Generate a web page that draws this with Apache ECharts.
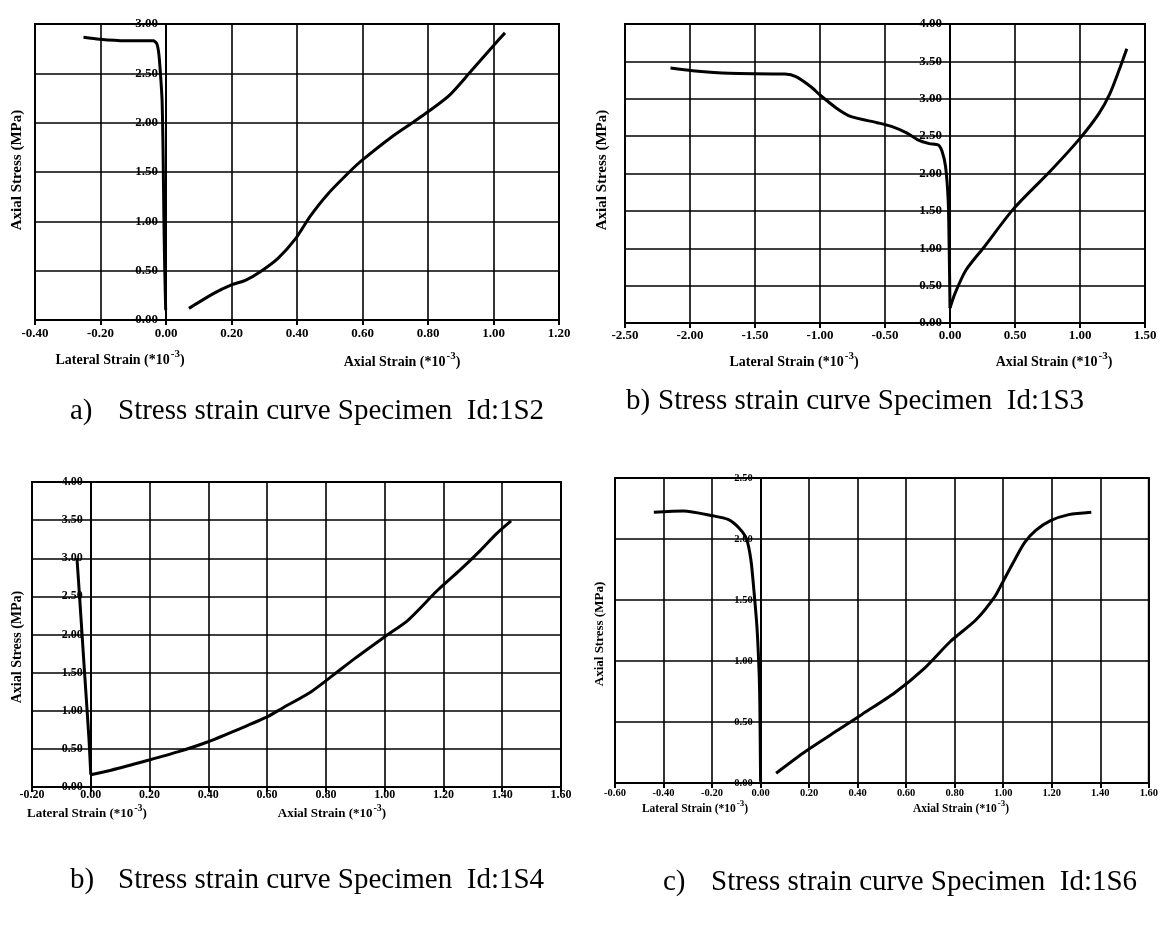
<!DOCTYPE html>
<html>
<head>
<meta charset="utf-8">
<title>Stress strain curves</title>
<script src="https://cdn.jsdelivr.net/npm/echarts@6/dist/echarts.min.js"></script>
<style>
  html, body { margin: 0; padding: 0; background: #fff; }
  #chart { width: 1161px; height: 926px; }
</style>
</head>
<body>
<div id="chart"></div>
<script>
// Specimen 1S2: [strain (*10^-3), axial stress (MPa)]
const s2Lateral = [[-0.252,2.865],[-0.203,2.845],[-0.126,2.83],[-0.039,2.83],[-0.028,2.80],[-0.022,2.70],[-0.017,2.50],[-0.012,2.23],[-0.009,1.72],[-0.0065,1.05],[-0.004,0.54],[-0.001,0.10]];
const s2Axial = [[0.070,0.118],[0.146,0.27],[0.20,0.355],[0.244,0.405],[0.288,0.49],[0.342,0.625],[0.397,0.83],[0.44,1.05],[0.495,1.28],[0.566,1.52],[0.599,1.62],[0.691,1.86],[0.757,2.01],[0.80,2.11],[0.866,2.28],[0.931,2.52],[0.997,2.77],[1.035,2.91]];

// Specimen 1S3
const s3Lateral = [[-2.15,3.41],[-1.98,3.375],[-1.70,3.34],[-1.27,3.33],[-1.185,3.295],[-1.07,3.16],[-1.0,3.05],[-0.87,2.87],[-0.76,2.76],[-0.56,2.68],[-0.45,2.63],[-0.33,2.54],[-0.247,2.45],[-0.16,2.40],[-0.09,2.38],[-0.06,2.29],[-0.034,2.09],[-0.014,1.64],[-0.006,0.97],[0,0.2]];
const s3Axial = [[0,0.2],[0.037,0.39],[0.122,0.705],[0.264,1.02],[0.49,1.53],[0.776,2.04],[1.0,2.47],[1.145,2.80],[1.23,3.07],[1.30,3.38],[1.36,3.67]];

// Specimen 1S4
const s4Lateral = [[-0.047,3.0],[-0.038,2.49],[-0.021,1.49],[-0.006,0.62],[0,0.16]];
const s4Axial = [[0,0.16],[0.069,0.22],[0.195,0.35],[0.296,0.46],[0.397,0.59],[0.498,0.75],[0.60,0.92],[0.65,1.03],[0.75,1.25],[0.826,1.47],[0.90,1.69],[1.0,1.97],[1.08,2.19],[1.18,2.58],[1.255,2.84],[1.32,3.08],[1.38,3.32],[1.43,3.49]];

// Specimen 1S6
const s6Lateral = [[-0.44,2.22],[-0.318,2.23],[-0.196,2.19],[-0.134,2.16],[-0.089,2.09],[-0.058,2.0],[-0.040,1.83],[-0.028,1.59],[-0.015,1.28],[-0.006,0.90],[-0.003,0.63],[0,0.01]];
const s6Axial = [[0.064,0.08],[0.186,0.26],[0.324,0.44],[0.416,0.56],[0.553,0.74],[0.675,0.94],[0.782,1.16],[0.889,1.34],[0.966,1.53],[0.996,1.64],[1.042,1.81],[1.088,1.97],[1.134,2.07],[1.195,2.15],[1.27,2.20],[1.363,2.22]];

// Axis ranges: [min, max, interval]
const strainRanges = [[-0.4, 1.2, 0.2], [-2.5, 1.5, 0.5], [-0.2, 1.6, 0.2], [-0.6, 1.6, 0.2]];
const stressRanges = [[0, 3.0, 0.5], [0, 4.0, 0.5], [0, 4.0, 0.5], [0, 2.5, 0.5]];

// Panel captions
const captionTags = ['a)', 'b)', 'b)', 'c)'];
const captionTexts = [
  'Stress strain curve Specimen  Id:1S2',
  'Stress strain curve Specimen  Id:1S3',
  'Stress strain curve Specimen  Id:1S4',
  'Stress strain curve Specimen  Id:1S6'
];
const yTitle = 'Axial Stress (MPa)';
const lateralTitle = 'Lateral Strain (*10';
const axialTitle = 'Axial Strain (*10';

const SERIF = '"Liberation Serif", "Times New Roman", serif';

// Layout of the four panels
const panels = [
  { grid: { left: 35, top: 24, width: 524, height: 296 }, tick: 13, name: 14, ytitle: 15,
    lat: [120, 358], ax: [402, 360], yt: [17, 170], tag: [70, 411], cap: [118, 411], lm: 7,
    lateral: s2Lateral, axial: s2Axial },
  { grid: { left: 625, top: 24, width: 520, height: 299 }, tick: 13, name: 14, ytitle: 15,
    lat: [794, 360], ax: [1054, 360], yt: [602, 170], tag: [626, 401], cap: [658, 401], lm: 6,
    lateral: s3Lateral, axial: s3Axial },
  { grid: { left: 32, top: 482, width: 529, height: 305 }, tick: 12, name: 13, ytitle: 14,
    lat: [87, 812], ax: [332, 812], yt: [17, 647], tag: [70, 880], cap: [118, 880], lm: 2,
    lateral: s4Lateral, axial: s4Axial },
  { grid: { left: 615, top: 478, width: 534, height: 305 }, tick: 10.5, name: 11.5, ytitle: 13,
    lat: [695, 807], ax: [961, 807], yt: [600, 634], tag: [663, 882], cap: [711, 882], lm: 5,
    lateral: s6Lateral, axial: s6Axial }
];

const fmt = v => (Math.abs(v) < 1e-9 ? 0 : v).toFixed(2);

const grids = [], xAxes = [], yAxes = [], series = [], graphics = [];

panels.forEach((p, i) => {
  grids.push(Object.assign({ show: true, borderColor: '#000', borderWidth: 2, backgroundColor: 'transparent' }, p.grid));
  const [xmin, xmax, xint] = strainRanges[i];
  const [ymin, ymax, yint] = stressRanges[i];
  // the stress axis sits on zero strain, inside the plot area
  const zeroShift = -((0 - xmin) / (xmax - xmin)) * p.grid.width;
  xAxes.push({
    type: 'value', gridIndex: i, min: xmin, max: xmax, interval: xint,
    axisLine: { show: true, onZero: false, lineStyle: { color: '#000', width: 2 } },
    axisTick: { show: true, inside: false, length: 5, lineStyle: { color: '#000', width: 2 } },
    axisLabel: { formatter: fmt, color: '#000', fontFamily: SERIF, fontWeight: 'bold', fontSize: p.tick, margin: p.lm },
    splitLine: { show: true, lineStyle: { color: '#000', width: 1.6 } }
  });
  yAxes.push({
    type: 'value', gridIndex: i, min: ymin, max: ymax, interval: yint,
    position: 'left', offset: zeroShift,
    axisLine: { show: true, onZero: false, lineStyle: { color: '#000', width: 2 } },
    axisTick: { show: false },
    axisLabel: { formatter: fmt, color: '#000', fontFamily: SERIF, fontWeight: 'bold', fontSize: p.tick, margin: 8 },
    splitLine: { show: true, lineStyle: { color: '#000', width: 1.6 } }
  });
  [p.lateral, p.axial].forEach(d => {
    series.push({
      type: 'line', xAxisIndex: i, yAxisIndex: i, data: d,
      showSymbol: false, smooth: 0.25, silent: true,
      lineStyle: { color: '#000', width: 3 }
    });
  });

  const rich = {
    b: { fontSize: p.name, fontWeight: 'bold', fontFamily: SERIF, fill: '#000', verticalAlign: 'bottom' },
    s: { fontSize: Math.round(p.name * 0.75), fontWeight: 'bold', fontFamily: SERIF, fill: '#000', verticalAlign: 'bottom', padding: [0, 0, 7, 1] }
  };
  graphics.push({
    type: 'text', x: p.lat[0], y: p.lat[1],
    style: { text: '{b|' + lateralTitle + '}{s|-3}{b|)}', rich, align: 'center', verticalAlign: 'middle' }
  });
  graphics.push({
    type: 'text', x: p.ax[0], y: p.ax[1],
    style: { text: '{b|' + axialTitle + '}{s|-3}{b|)}', rich, align: 'center', verticalAlign: 'middle' }
  });
  graphics.push({
    type: 'text', x: p.yt[0], y: p.yt[1], rotation: Math.PI / 2,
    style: { text: yTitle, font: 'bold ' + p.ytitle + 'px ' + SERIF, fill: '#000', align: 'center', verticalAlign: 'middle' }
  });
  graphics.push({
    type: 'text', x: p.tag[0], y: p.tag[1],
    style: { text: captionTags[i], font: '29px ' + SERIF, fill: '#000', align: 'left', verticalAlign: 'middle' }
  });
  graphics.push({
    type: 'text', x: p.cap[0], y: p.cap[1],
    style: { text: captionTexts[i], font: '29px ' + SERIF, fill: '#000', align: 'left', verticalAlign: 'middle' }
  });
});

const chart = echarts.init(document.getElementById('chart'), null, { renderer: 'canvas' });
chart.setOption({
  animation: false,
  backgroundColor: '#fff',
  grid: grids,
  xAxis: xAxes,
  yAxis: yAxes,
  series: series,
  graphic: graphics
});
</script>
</body>
</html>
